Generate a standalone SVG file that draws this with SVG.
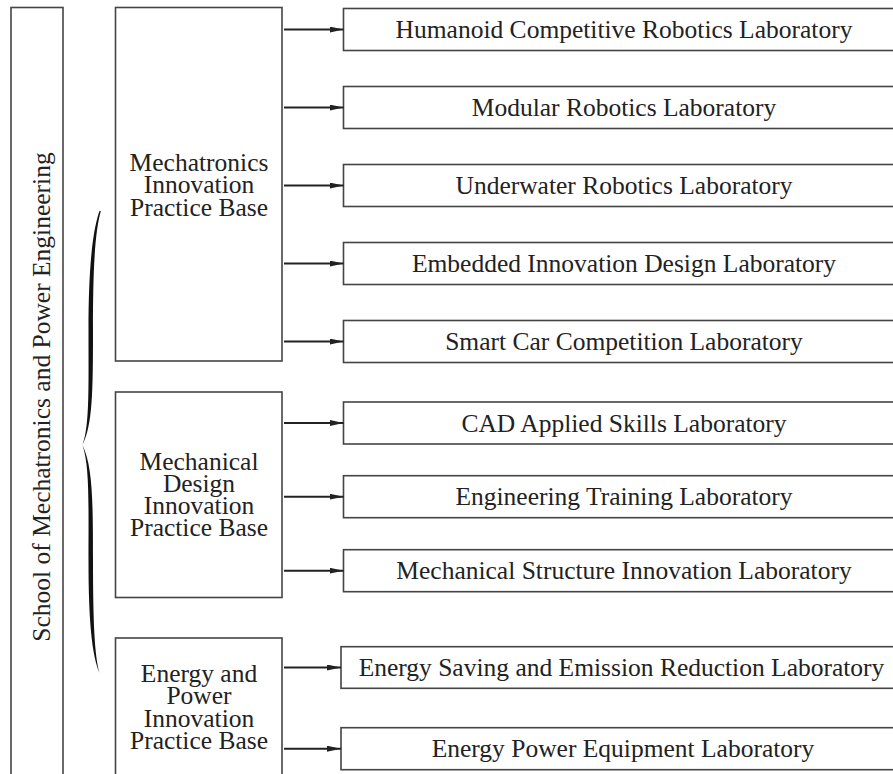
<svg xmlns="http://www.w3.org/2000/svg" width="893" height="774" viewBox="0 0 893 774">
<style>
.box{fill:#fff;stroke:#444;stroke-width:1.6}
.t{font-family:'Liberation Serif','DejaVu Serif',serif;font-size:25.5px;fill:#222;text-anchor:middle}
.arr{stroke:#222;stroke-width:2;fill:none;marker-end:url(#ah)}
</style>
<defs>
<marker id="ah" markerUnits="userSpaceOnUse" markerWidth="14" markerHeight="6" refX="14" refY="3" orient="auto">
<path d="M0,0 L14,3 L0,6 Z" fill="#222"/>
</marker>
</defs>
<rect width="893" height="774" fill="#fff"/>
<g id="school">
<rect class="box" x="11" y="7.5" width="52" height="800"/>
<text class="t" transform="translate(50,397) rotate(-90)">School of Mechatronics and Power Engineering</text>
</g>
<g id="brace">
<path d="M99.5,211 C92,232 88.5,272 88.5,330 C88.5,392 89.5,425 82.5,445 C92.5,425 93,392 93,330 C93,272 94.5,234 100.8,211 Z" fill="#111"/>
<path d="M82.5,445 C89.5,466 88.5,500 88.5,560 C88.5,622 92,655 99.5,673 C94.5,655 93,622 93,560 C93,500 92.5,466 82.5,445 Z" fill="#111"/>
</g>
<g id="base1">
<rect class="box" x="115.5" y="7.5" width="166.5" height="353.5"/>
<text class="t" x="199" y="170.7">Mechatronics<tspan x="199" dy="22.6">Innovation</tspan><tspan x="199" dy="22.6">Practice Base</tspan></text>
</g>
<g id="base2">
<rect class="box" x="115.5" y="392" width="166.5" height="205.5"/>
<text class="t" x="199" y="470">Mechanical<tspan x="199" dy="22">Design</tspan><tspan x="199" dy="22">Innovation</tspan><tspan x="199" dy="22">Practice Base</tspan></text>
</g>
<g id="base3">
<rect class="box" x="115.5" y="638" width="166.5" height="200"/>
<text class="t" x="199" y="681.7">Energy and<tspan x="199" dy="22.6">Power</tspan><tspan x="199" dy="22.2">Innovation</tspan><tspan x="199" dy="22.3">Practice Base</tspan></text>
</g>
<g id="lab1"><rect class="box" x="343.5" y="8.5" width="600" height="42"/><text class="t" x="624" y="38">Humanoid Competitive Robotics Laboratory</text></g>
<g id="lab2"><rect class="box" x="343.5" y="86.5" width="600" height="42"/><text class="t" x="624" y="116">Modular Robotics Laboratory</text></g>
<g id="lab3"><rect class="box" x="343.5" y="164.5" width="600" height="42"/><text class="t" x="624" y="194">Underwater Robotics Laboratory</text></g>
<g id="lab4"><rect class="box" x="343.5" y="242.5" width="600" height="42"/><text class="t" x="624" y="272">Embedded Innovation Design Laboratory</text></g>
<g id="lab5"><rect class="box" x="343.5" y="320.5" width="600" height="42"/><text class="t" x="624" y="350">Smart Car Competition Laboratory</text></g>
<g id="lab6"><rect class="box" x="343.5" y="402" width="600" height="42"/><text class="t" x="624" y="431.5">CAD Applied Skills Laboratory</text></g>
<g id="lab7"><rect class="box" x="343.5" y="475.7" width="600" height="42"/><text class="t" x="624" y="505.2">Engineering Training Laboratory</text></g>
<g id="lab8"><rect class="box" x="343.5" y="549.7" width="600" height="42"/><text class="t" x="624" y="579.2">Mechanical Structure Innovation Laboratory</text></g>
<g id="lab9"><rect class="box" x="341" y="646.7" width="600" height="41.6"/><text class="t" x="621.5" y="676">Energy Saving and Emission Reduction Laboratory</text></g>
<g id="lab10"><rect class="box" x="341" y="727.7" width="600" height="42"/><text class="t" x="623" y="757.3">Energy Power Equipment Laboratory</text></g>
<g id="connectors">
<line class="arr" x1="284" y1="29.5" x2="343.5" y2="29.5"/>
<line class="arr" x1="284" y1="107.5" x2="343.5" y2="107.5"/>
<line class="arr" x1="284" y1="185.5" x2="343.5" y2="185.5"/>
<line class="arr" x1="284" y1="263.5" x2="343.5" y2="263.5"/>
<line class="arr" x1="284" y1="341.5" x2="343.5" y2="341.5"/>
<line class="arr" x1="284" y1="423" x2="343.5" y2="423"/>
<line class="arr" x1="284" y1="496.7" x2="343.5" y2="496.7"/>
<line class="arr" x1="284" y1="570.7" x2="343.5" y2="570.7"/>
<line class="arr" x1="284" y1="667.5" x2="341" y2="667.5"/>
<line class="arr" x1="284" y1="748.7" x2="341" y2="748.7"/>
</g>
</svg>
